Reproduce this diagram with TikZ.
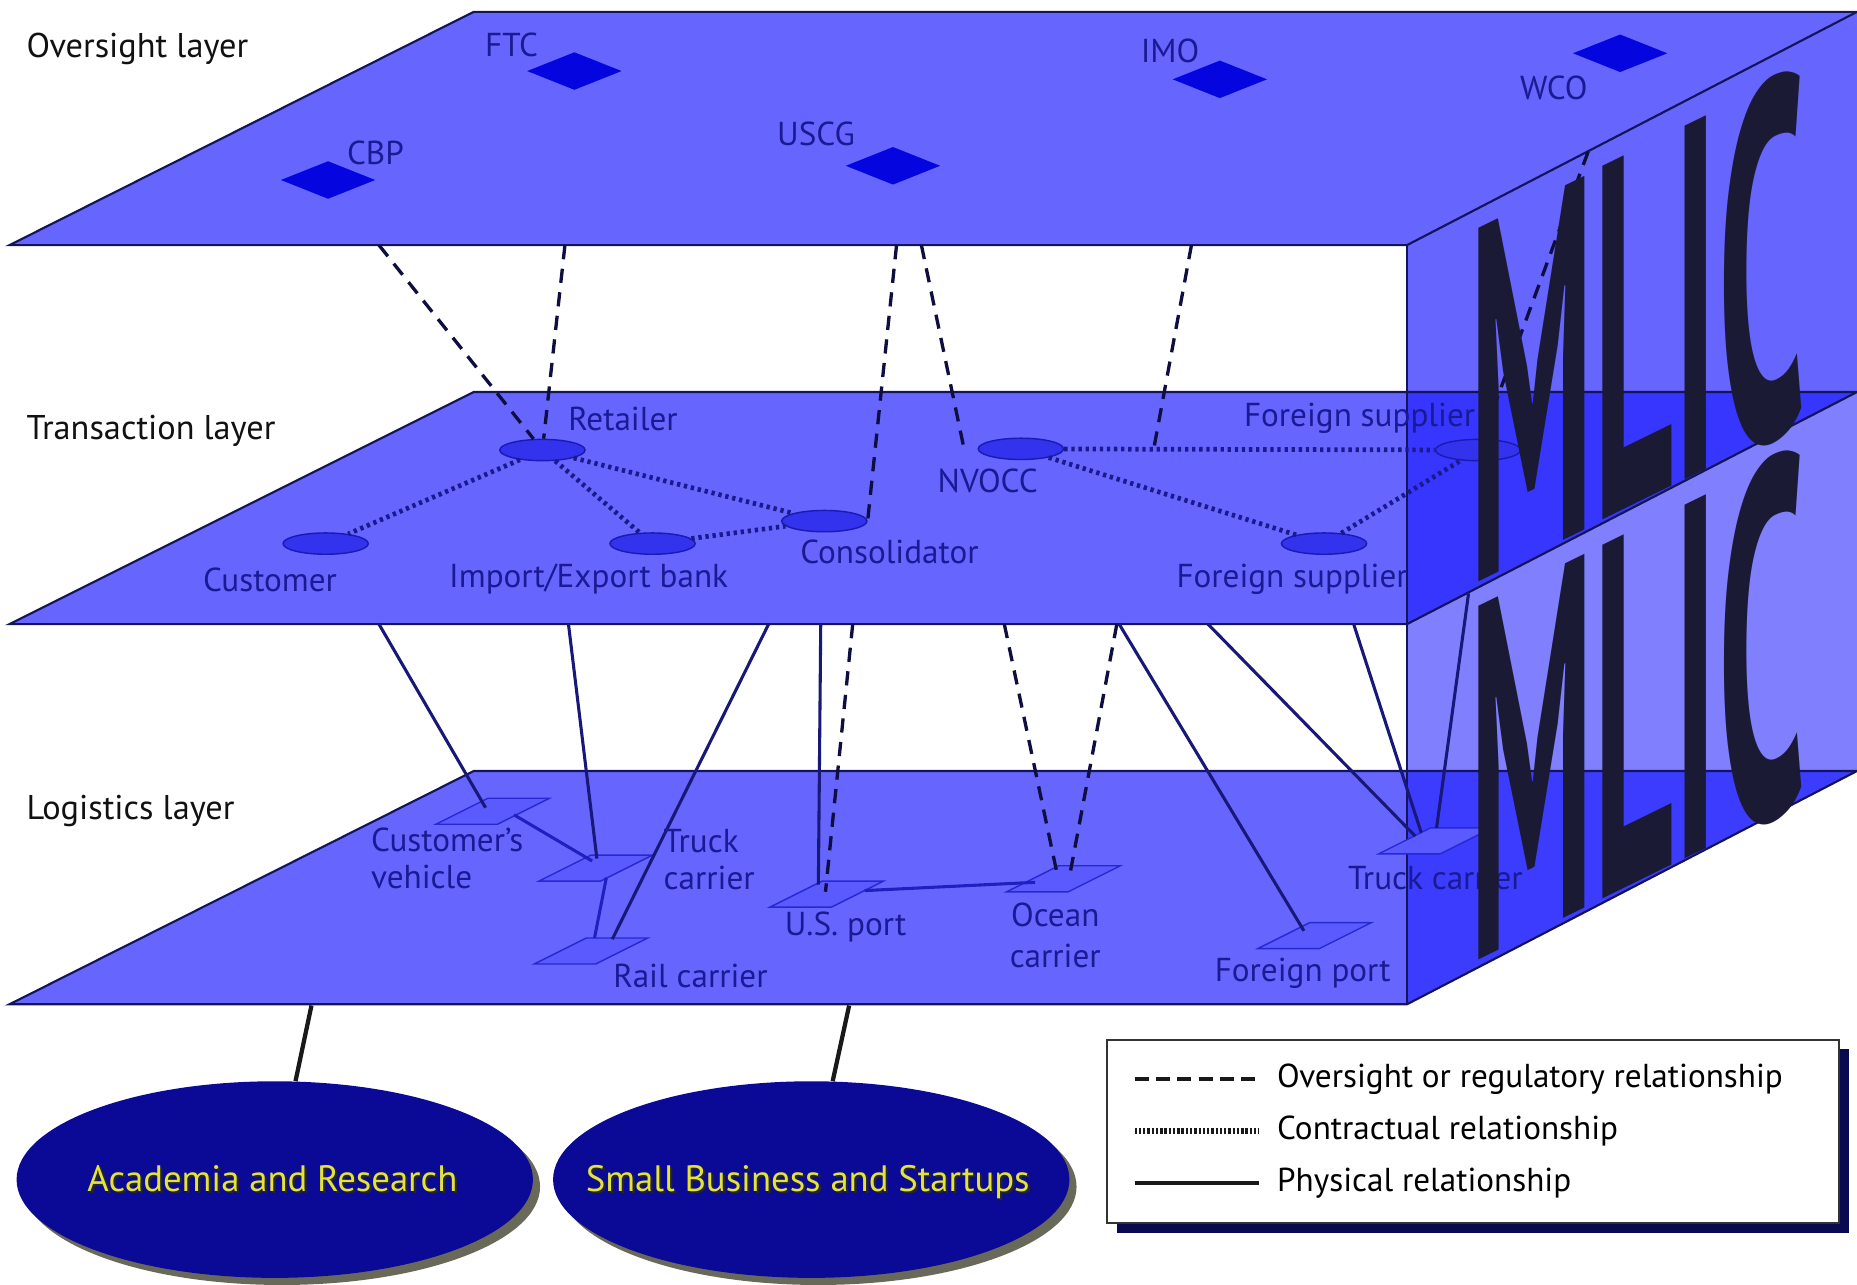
\documentclass[tikz,border=0pt]{standalone}
\usepackage{fontspec}
\setmainfont{PT Sans}
\usepackage{graphicx}
\usetikzlibrary{shapes.geometric,calc,shadows}
\definecolor{planec}{HTML}{6666FF}
\definecolor{sidedark}{HTML}{3636FF}
\definecolor{sidelight}{HTML}{8080FF}
\definecolor{sidedark2}{HTML}{3C3CFF}
\definecolor{edgec}{HTML}{14145A}
\definecolor{diamc}{HTML}{0505E0}
\definecolor{ellc}{HTML}{3333EE}
\definecolor{elld}{HTML}{1A1AB4}
\definecolor{labc}{HTML}{1A1A94}
\definecolor{laytxt}{HTML}{111111}
\definecolor{dashc}{HTML}{0E0E40}
\definecolor{dotc}{HTML}{1A1A8C}
\definecolor{physc}{HTML}{181878}
\definecolor{logc}{HTML}{2020C0}
\definecolor{parfill}{HTML}{5A5AFF}
\definecolor{pardraw}{HTML}{2828D0}
\definecolor{bigellc}{HTML}{0A0A96}
\definecolor{yellowc}{HTML}{E3E33A}
\definecolor{shadc}{HTML}{2A2A14}
\definecolor{navyc}{HTML}{0A0A50}
\definecolor{mlicc}{HTML}{1A1A35}
\begin{document}
\begin{tikzpicture}[x=0.5pt,y=-0.5pt,
  planeedge/.style={draw=edgec, line width=0.9pt},
  lay/.style={font=\fontsize{14.5}{17}\selectfont, text=laytxt, anchor=west, inner sep=0pt},
  lbl/.style={font=\fontsize{14}{15.5}\selectfont, text=labc, inner sep=0pt},
  agency/.style={diamond, fill=diamc, minimum width=40pt, minimum height=16pt, inner sep=0pt},
  party/.style={ellipse, fill=ellc, draw=elld, line width=0.6pt, minimum width=36pt, minimum height=9pt, inner sep=0pt},
  oversight/.style={draw=dashc, line width=1.4pt, dash pattern=on 6pt off 4pt},
  contract/.style={draw=dotc, line width=2pt, dash pattern=on 1.4pt off 1.6pt},
  physical/.style={draw=physc, line width=1.3pt},
  logline/.style={draw=logc, line width=1.3pt},
  lpar/.pic={\path[fill=parfill, draw=pardraw, line width=0.6pt] (-4,-11) -- (48,-11) -- (4,11) -- (-48,11) -- cycle;},
  bigell/.style={ellipse, fill=bigellc, minimum width=218pt, minimum height=83pt, inner sep=0pt, drop shadow={shadow xshift=3pt, shadow yshift=-3pt, fill=shadc, opacity=0.7}},
  ytxt/.style={font=\fontsize{15.5}{18}\selectfont, text=yellowc, inner sep=0pt, anchor=base},
  shtxt/.style={font=\fontsize{15.5}{18}\selectfont, text=black!85, inner sep=0pt, anchor=base},
  link/.style={draw=black!90, line width=1.8pt},
  legbox/.style={rectangle, draw=black!80, line width=0.8pt, fill=white, minimum width=309pt, minimum height=77.5pt, drop shadow={shadow xshift=4pt, shadow yshift=-4pt, fill=navyc, opacity=1}},
  legtxt/.style={font=\fontsize{14}{16}\selectfont, text=black, anchor=west, inner sep=0pt},
  mlic/.style={text=mlicc, inner sep=0pt, anchor=base west, transform shape}
]
\useasboundingbox (0,0) rectangle (1568,1085);

% ---------- planes ----------
\fill[planec] (400,10) -- (1568,10) -- (1188,207) -- (8,207) -- cycle;
\fill[planec] (400,331) -- (1568,331) -- (1188,527) -- (8,527) -- cycle;
\fill[planec] (400,651) -- (1568,651) -- (1188,848) -- (8,848) -- cycle;
% ---------- side face ----------
\fill[planec] (1188,207) -- (1568,10) -- (1568,331) -- (1188,331) -- cycle;
\fill[sidedark] (1188,331) -- (1568,331) -- (1188,527) -- cycle;
\fill[sidelight] (1188,527) -- (1568,331) -- (1568,651) -- (1188,651) -- cycle;
\fill[sidedark2] (1188,651) -- (1568,651) -- (1188,848) -- cycle;
% ---------- edges ----------
\draw[planeedge] (1568,10) -- (400,10) -- (8,207) -- (1188,207) -- (1568,10);
\draw[planeedge] (1568,331) -- (400,331) -- (8,527) -- (1188,527) -- (1568,331);
\draw[planeedge] (1568,651) -- (400,651) -- (8,848) -- (1188,848) -- (1568,651);
\draw[planeedge] (1188,207) -- (1188,848);

% ---------- layer titles ----------
\node[lay] (lo) at (22,41) {Oversight layer};
\node[lay] (lt) at (22,364) {Transaction layer};
\node[lay] (ll) at (22,685) {Logistics layer};

% ---------- oversight agencies ----------
\node[agency] (ftc) at (485,60) {};
\node[agency] (cbp) at (277,152) {};
\node[agency] (uscg) at (754,140) {};
\node[agency] (imo) at (1030,67) {};
\node[agency] (wco) at (1368,45) {};
\node[lbl] (ftcL) at (432,38) {FTC};
\node[lbl] (cbpL) at (317,129) {CBP};
\node[lbl] (uscgL) at (689,113) {USCG};
\node[lbl] (imoL) at (988,43) {IMO};
\node[lbl] (wcoL) at (1312,74) {WCO};

% ---------- transaction parties ----------
\node[party] (ret) at (458,380) {};
\node[party] (cust) at (275,459) {};
\node[party] (bank) at (551,459) {};
\node[party] (cons) at (696,440) {};
\node[party] (nvocc) at (862,379) {};
\node[party] (fsu) at (1248,380) {};
\node[party] (fsl) at (1118,459) {};
\coordinate (imoEnd) at (974,380);

\draw[contract] (ret) -- (cust);
\draw[contract] (ret) -- (bank);
\draw[contract] (ret) -- (cons);
\draw[contract] (bank) -- (cons);
\draw[contract] (nvocc) -- (fsu);
\draw[contract] (nvocc) -- (fsl);
\draw[contract] (fsl) -- (fsu);

% ---------- oversight relations ----------
\coordinate (o1) at (320,207);
\coordinate (o2) at (477,207);
\coordinate (o3) at (757,207);
\coordinate (o4) at (778,207);
\coordinate (o5) at (1006,207);
\coordinate (o6) at (1341,128);
\draw[oversight] (o1) -- (ret);
\draw[oversight] (o2) -- (ret);
\draw[oversight] (o3) -- (cons.east);
\draw[oversight] (o4) -- ($(nvocc.west)+(-12,-3)$);
\draw[oversight] (o5) -- (imoEnd);
\draw[oversight] (o6) -- (fsu);

% ---------- logistics elements ----------
\coordinate (cv) at (416,685);
\coordinate (tcl) at (503,733);
\coordinate (rail) at (499,803);
\coordinate (usp) at (698,755);
\coordinate (ocean) at (898,742);
\coordinate (fport) at (1110,790);
\coordinate (tcr) at (1212,710);
\foreach \p in {cv,tcl,rail,usp,ocean,fport,tcr} {\pic at (\p) {lpar};}

\draw[logline] ($(cv)+(18,3)$) -- ($(tcl)+(-3,-6)$);
\draw[logline] ($(tcl)+(9,8)$) -- ($(rail)+(3,-11)$);
\draw[logline] ($(usp)+(32,-3)$) -- ($(ocean)+(-24,3)$);

% ---------- transaction -> logistics ----------
\coordinate (t1) at (320,527);
\coordinate (t2) at (480,527);
\coordinate (t3) at (649,527);
\coordinate (t4) at (693,527);
\coordinate (t5) at (720,527);
\coordinate (t6) at (848,527);
\coordinate (t7) at (943,527);
\coordinate (t8) at (945,527);
\coordinate (t9) at (1020,527);
\coordinate (t10) at (1143,527);
\coordinate (t11) at (1240,501);
\draw[physical] (t1) -- ($(cv)+(-6,-3)$);
\draw[physical] (t2) -- ($(tcl)+(1,-8)$);
\draw[physical] (t3) -- ($(rail)+(18,-10)$);
\draw[physical] (t4) -- ($(usp)+(-7,-8)$);
\draw[oversight] (t5) -- ($(usp)+(-1,-2)$);
\draw[oversight] (t6) -- ($(ocean)+(-6,-7)$);
\draw[oversight] (t7) -- ($(ocean)+(6,-7)$);
\draw[physical] (t8) -- ($(fport)+(-9,-4)$);
\draw[physical] (t9) -- ($(tcr)+(-17,-4)$);
\draw[physical] (t10) -- ($(tcr)+(-12,-7)$);
\draw[physical] (t11) -- ($(tcr)+(1,-11)$);

% ---------- labels ----------
\node[lbl] (retL) at (526,354) {Retailer};
\node[lbl] (custL) at (228,490) {Customer};
\node[lbl] (bankL) at (497,489) {Import/Export bank};
\node[lbl] (consL) at (751,466) {Consolidator};
\node[lbl] (nvoccL) at (834,406) {NVOCC};
\node[lbl,anchor=west] (fsuL) at (1050,353) {Foreign supplier};
\node[lbl,anchor=west] (fslL) at (993,489) {Foreign supplier};
\node[lbl,anchor=west,align=left] (cvL) at (313,725) {Customer’s\\vehicle};
\node[lbl,anchor=west,align=left] (tclL) at (560,726) {Truck\\carrier};
\node[lbl] (railL) at (583,824) {Rail carrier};
\node[lbl] (uspL) at (714,783) {U.S. port};
\node[lbl,align=center,font=\fontsize{14}{17.5}\selectfont] (oceanL) at (891,790) {Ocean\\carrier};
\node[lbl] (fportL) at (1100,822) {Foreign port};
\node[lbl] (tcrL) at (1212,741) {Truck carrier};

% ---------- MLIC lettering ----------
\begin{scope}[shift={(1240,495)}, cm={1,0.49,0,1,(0,0)}]
\node[mlic] (mlicA) at (0,0) {\resizebox{142pt}{152pt}{\bfseries MLIC}};
\end{scope}
\begin{scope}[shift={(1240,815)}, cm={1,0.49,0,1,(0,0)}]
\node[mlic] (mlicB) at (0,0) {\resizebox{142pt}{152pt}{\bfseries MLIC}};
\end{scope}

% ---------- communities ----------
\coordinate (lb1) at (263,849);
\coordinate (lb2) at (717,849);
\node[bigell] (acad) at (232,996) {};
\node[bigell] (smb) at (685,996) {};
\draw[link] (lb1) -- (acad);
\draw[link] (lb2) -- (smb);
\node[shtxt] (acadS) at (232,1008) {Academia and Research};
\node[ytxt] (acadT) at (230,1006) {Academia and Research};
\node[shtxt] (smbS) at (684,1008) {Small Business and Startups};
\node[ytxt] (smbT) at (682,1006) {Small Business and Startups};

% ---------- legend ----------
\node[legbox] (legend) at (1244,955.5) {};
\coordinate (la1) at (958,911); \coordinate (lb1e) at (1063,911);
\coordinate (la2) at (958,955); \coordinate (lb2e) at (1063,955);
\coordinate (la3) at (958,999); \coordinate (lb3e) at (1063,999);
\draw[draw=black!90, line width=2pt, dash pattern=on 6pt off 3pt] (la1) -- (lb1e);
\draw[draw=black!90, line width=2.5pt, dash pattern=on 1pt off 0.8pt] (la2) -- (lb2e);
\draw[draw=black!90, line width=1.5pt] (la3) -- (lb3e);
\node[legtxt] (lt1) at (1078,911) {Oversight or regulatory relationship};
\node[legtxt] (lt2) at (1078,955) {Contractual relationship};
\node[legtxt] (lt3) at (1078,999) {Physical relationship};
\end{tikzpicture}
\end{document}
